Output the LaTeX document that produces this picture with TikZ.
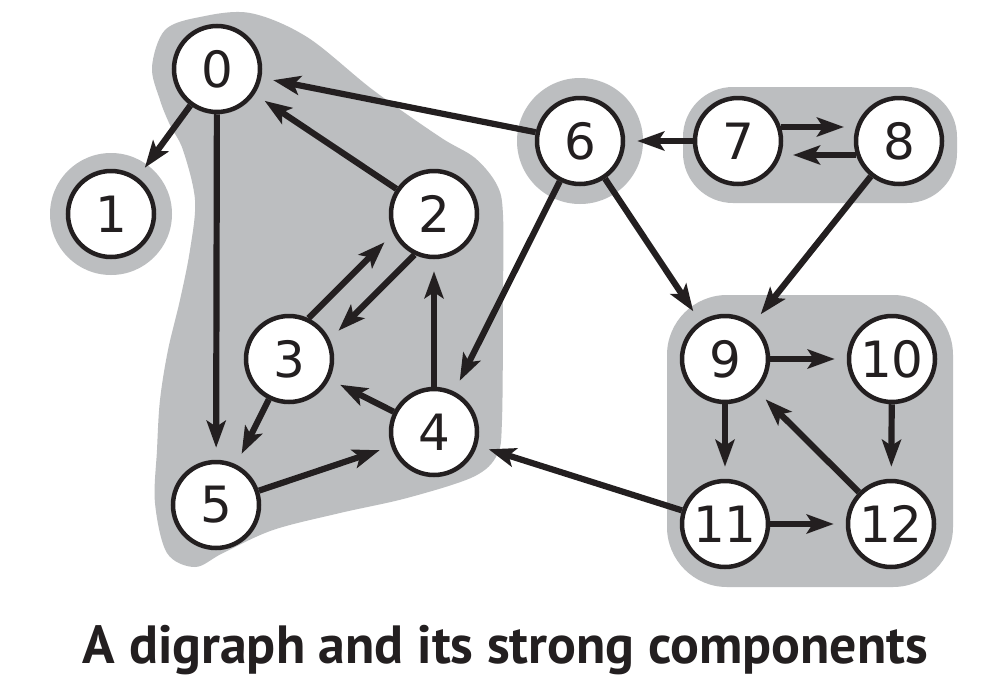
\documentclass[tikz,border=0pt]{standalone}
\usepackage{fontspec}
\usetikzlibrary{arrows.meta,calc}
\newfontfamily\digitfont{DejaVu Sans}
\newfontfamily\titlefont{PT Sans}
\definecolor{blobgray}{RGB}{188,190,192}
\definecolor{ink}{RGB}{35,31,32}
\pgfdeclarelayer{background}
\pgfsetlayers{background,main}
\begin{document}
\begin{tikzpicture}[x=1pt,y=-1pt,
  vertex/.style={circle, draw=ink, fill=white, line width=4.5pt, minimum size=86pt, inner sep=0pt,
    font=\digitfont\fontsize{50}{50}\selectfont, text=ink},
  edge/.style={draw=ink, line width=6.2pt, -{Stealth[length=27pt,width=19pt,inset=6pt]}, shorten >=12pt},
  paredge/.style={edge, shorten <=42.7pt, shorten >=55pt},
  blob/.style={fill=blobgray}]
\useasboundingbox (0,0) rectangle (988,691);

\node[vertex] (n0) at (217,69) {0};
\node[vertex] (n1) at (111,214) {1};
\node[vertex] (n2) at (434,214) {2};
\node[vertex] (n3) at (289,359) {3};
\node[vertex] (n4) at (434,432) {4};
\node[vertex] (n5) at (216,505) {5};
\node[vertex] (n6) at (580,141) {6};
\node[vertex] (n7) at (738,141) {7};
\node[vertex] (n8) at (899,141) {8};
\node[vertex] (n9) at (725,359) {9};
\node[vertex] (n10) at (892,359) {10};
\node[vertex] (n11) at (725,524) {11};
\node[vertex] (n12) at (891,524) {12};

\begin{pgfonlayer}{background}
  \fill[white] (0,0) rectangle (988,691);
  \fill[blob] plot[smooth cycle, tension=0.55] coordinates {
    (200,17) (250,13) (307,37) (373,90) (440,137) (475,158) (497,185) (503,215)
    (503,300) (502,420) (497,455) (473,477) (407,498) (340,513) (273,530)
    (223,553) (195,567) (167,553) (155,503) (157,450) (160,400) (168,350)
    (180,300) (190,250) (195,200) (183,150) (170,125) (160,100) (152,67) (165,30)};
  \fill[blob] (n1) circle (61pt);
  \fill[blob] (n6) circle (63pt);
  \fill[blob, rounded corners=50pt] (683,87) rectangle (957,203);
  \fill[blob, rounded corners=60pt] (667,295) rectangle (953,587);
\end{pgfonlayer}

\draw[edge] (n0) -- (n1);
\draw[edge] (n0) -- (n5);
\draw[edge] (n2) -- (n0);
\draw[edge] (n6) -- (n0);
\draw[edge] (n3) -- (n5);
\draw[edge] (n4) -- (n3);
\draw[edge] (n4) -- (n2);
\draw[edge] (n5) -- (n4);
\draw[edge] (n6) -- (n4);
\draw[edge] (n6) -- (n9);
\draw[edge] (n7) -- (n6);
\draw[edge] (n8) -- (n9);
\draw[edge] (n9) -- (n10);
\draw[edge] (n9) -- (n11);
\draw[edge] (n10) -- (n12);
\draw[edge] (n11) -- (n12);
\draw[edge] (n12) -- (n9);
\draw[edge] (n11) -- (n4);
\draw[paredge] ($(n3)!15pt!90:(n2)$) -- ($(n2)!15pt!-90:(n3)$);
\draw[paredge] ($(n2)!15pt!90:(n3)$) -- ($(n3)!15pt!-90:(n2)$);
\draw[paredge] ($(n7)!14pt!90:(n8)$) -- ($(n8)!14pt!-90:(n7)$);
\draw[paredge] ($(n8)!14pt!90:(n7)$) -- ($(n7)!14pt!-90:(n8)$);

\node[anchor=base, text=ink, font=\titlefont\bfseries\fontsize{54}{54}\selectfont, inner sep=0pt] (title) at (505.5,663)
  {\resizebox{845pt}{!}{A digraph and its strong components}};
\end{tikzpicture}
\end{document}
